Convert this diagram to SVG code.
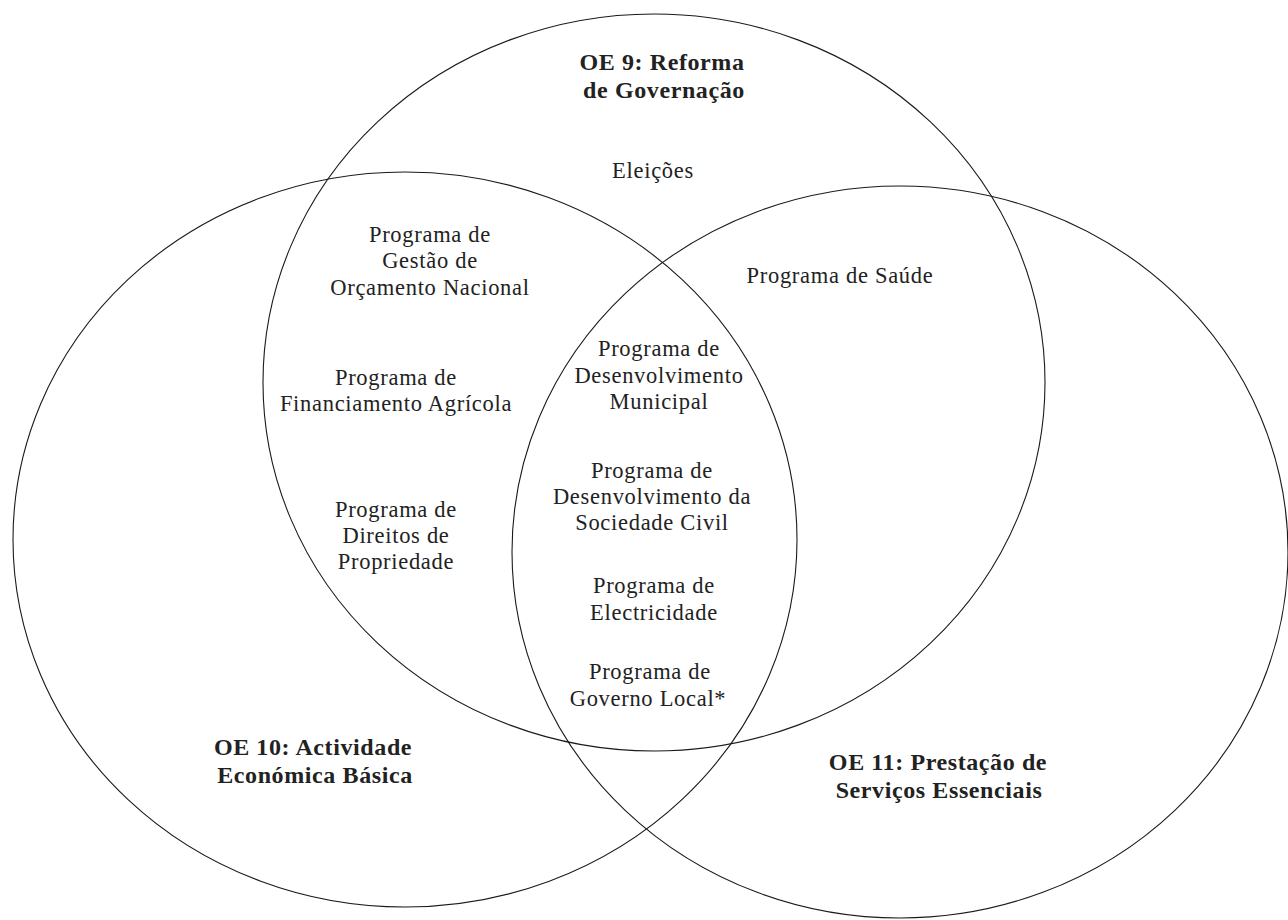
<svg xmlns="http://www.w3.org/2000/svg" width="1288" height="920" viewBox="0 0 1288 920">
<style>
.c{fill:none;stroke:#1a1a1a;stroke-width:1.1}
.t{font-family:"Liberation Serif","Times New Roman",serif;font-size:22.5px;letter-spacing:0.7px;fill:#222;text-anchor:middle}
.h{font-family:"Liberation Serif","Times New Roman",serif;font-size:24px;font-weight:bold;letter-spacing:0.6px;fill:#222;text-anchor:middle}
</style>
<rect width="1288" height="920" fill="#fff"/>
<g id="sets">
<g id="oe9"><ellipse class="c" cx="654" cy="382.5" rx="391" ry="368.5"/></g>
<g id="oe10"><ellipse class="c" cx="405" cy="539.5" rx="392" ry="367.5"/></g>
<g id="oe11"><ellipse class="c" cx="900" cy="552" rx="388" ry="366"/></g>
</g>
<g id="labels">
<g id="t-oe9"><text class="h" x="662" y="70">OE 9: Reforma</text><text class="h" x="664" y="98">de Governação</text></g>
<g id="t-oe10"><text class="h" x="313" y="755">OE 10: Actividade</text><text class="h" x="315" y="783">Económica Básica</text></g>
<g id="t-oe11"><text class="h" x="938" y="770">OE 11: Prestação de</text><text class="h" x="939" y="798">Serviços Essenciais</text></g>
<g id="eleicoes"><text class="t" x="653" y="178">Eleições</text></g>
<g id="saude"><text class="t" x="840" y="283">Programa de Saúde</text></g>
<g id="orcamento"><text class="t" x="430" y="242">Programa de</text><text class="t" x="430" y="268">Gestão de</text><text class="t" x="430" y="295">Orçamento Nacional</text></g>
<g id="agricola"><text class="t" x="396" y="385">Programa de</text><text class="t" x="396" y="411">Financiamento Agrícola</text></g>
<g id="direitos"><text class="t" x="396" y="517">Programa de</text><text class="t" x="396" y="543">Direitos de</text><text class="t" x="396" y="569">Propriedade</text></g>
<g id="municipal"><text class="t" x="659" y="356">Programa de</text><text class="t" x="659" y="383">Desenvolvimento</text><text class="t" x="659" y="409">Municipal</text></g>
<g id="sociedade"><text class="t" x="652" y="478">Programa de</text><text class="t" x="652" y="504">Desenvolvimento da</text><text class="t" x="652" y="530">Sociedade Civil</text></g>
<g id="electricidade"><text class="t" x="654" y="593">Programa de</text><text class="t" x="654" y="620">Electricidade</text></g>
<g id="governo"><text class="t" x="650" y="679">Programa de</text><text class="t" x="648" y="706">Governo Local*</text></g>
</g>
</svg>
